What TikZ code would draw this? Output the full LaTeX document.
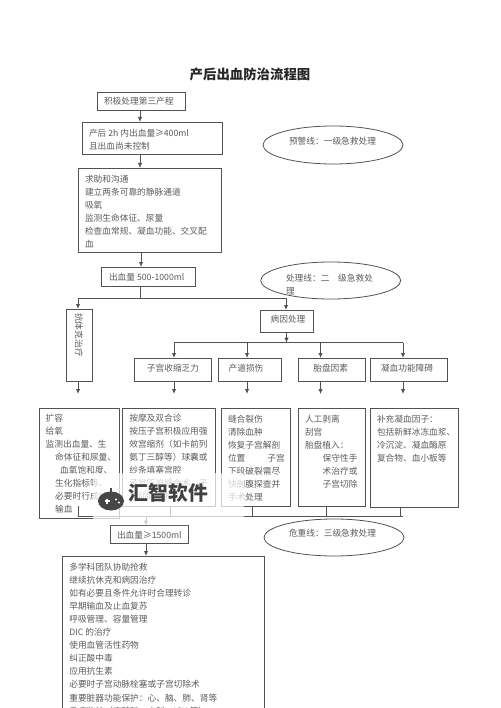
\documentclass[tikz,border=0pt]{standalone}
\usepackage{fontspec}
\setmainfont{Noto Sans CJK SC}
\usetikzlibrary{arrows.meta,shapes.geometric}
\definecolor{ink}{gray}{0.32}
\definecolor{txt}{gray}{0.36}
\tikzset{
  x=1pt,y=-1pt,
  bx/.style={draw=ink,line width=0.9pt,anchor=north west,inner sep=0pt,outer sep=0pt},
  ell/.style={draw=ink,line width=0.8pt,ellipse,inner sep=0pt,outer sep=0pt,minimum width=140pt},
  tx/.style={text=txt,inner sep=0pt,outer sep=0pt,align=left,anchor=north west,yshift=-3.5pt,font=\fontsize{8.7}{13.1}\selectfont},
  ct/.style={text=txt,inner sep=0pt,outer sep=0pt,font=\fontsize{8.7}{13.1}\selectfont},
  ln/.style={draw=ink,line width=0.9pt},
  ar/.style={ln,-{Latex[length=5pt,width=4.5pt]}},
}
\begin{document}
\begin{tikzpicture}
\useasboundingbox (0,0) rectangle (500,708);
\clip (0,0) rectangle (500,708);
\fill[white] (0,0) rectangle (500,708);
\node[font=\fontsize{13.4}{16}\selectfont\bfseries,text=black!85,inner sep=0pt] (title) at (250,74) {产后出血防治流程图};
% boxes
\node[bx,minimum width=88pt,minimum height=18pt] (a1) at (97,92) {};
\node[bx,minimum width=140pt,minimum height=32pt] (a2) at (82.5,122) {};
\node[bx,minimum width=143pt,minimum height=84pt] (a3) at (78.5,168) {};
\node[bx,minimum width=94pt,minimum height=19pt] (a4) at (101.7,267) {};
\node[bx,minimum width=25.5pt,minimum height=72pt] (shock) at (66.7,309) {};
\node[bx,minimum width=53pt,minimum height=22.5pt] (cause) at (260.7,310) {};
\node[bx,minimum width=76.5pt,minimum height=23pt] (c1) at (134.7,358) {};
\node[bx,minimum width=63pt,minimum height=23pt] (c2) at (218,358) {};
\node[bx,minimum width=67pt,minimum height=23pt] (c3) at (298,358) {};
\node[bx,minimum width=77pt,minimum height=23pt] (c4) at (370,358) {};
\node[bx,minimum width=80pt,minimum height=110pt] (d0) at (39,408) {};
\node[bx,minimum width=93pt,minimum height=98pt] (d1) at (122.5,408) {};
\node[bx,minimum width=69pt,minimum height=97.5pt] (d2) at (221,408.7) {};
\node[bx,minimum width=67pt,minimum height=97.5pt] (d3) at (298,408.7) {};
\node[bx,minimum width=88pt,minimum height=98.5pt] (d4) at (370,408.7) {};
\node[bx,minimum width=78.5pt,minimum height=18pt] (e1) at (110,525.7) {};
\node[bx,minimum width=202pt,minimum height=170pt] (e2) at (62,556) {};
% ellipses
\node[ell,minimum height=38pt] (w1) at (333,145) {};
\node[ell,minimum height=37pt] (w2) at (330.7,280.5) {};
\node[ell,minimum height=37pt] (w3) at (334,537.5) {};
% junctions
\coordinate (j1) at (140,298);
\coordinate (jl) at (78,298);
\coordinate (jr) at (286,298);
\coordinate (j2) at (286.5,342.7);
\coordinate (k1) at (174,342.7);
\coordinate (k2) at (247,342.7);
\coordinate (k3) at (320.5,342.7);
\coordinate (k4) at (403,342.7);
\coordinate (m0) at (78,394);
\coordinate (m1) at (174,394);
\coordinate (m2) at (247,394);
\coordinate (m3) at (320.5,394);
\coordinate (m4) at (403,394);
\coordinate (s0) at (78,506);
\coordinate (b0) at (78,516.3);
\coordinate (b1) at (170.7,516.3);
\coordinate (b2) at (252,516.3);
\coordinate (b3) at (326,516.3);
\coordinate (b4) at (400,516.3);
\coordinate (b5) at (403,516.3);
\coordinate (bm) at (146,516.3);
% connectors
\draw[ar] (a1.south -| 140,0) -- (a2.north -| 140,0);
\draw[ar] (a2.south -| 140,0) -- (a3.north -| 140,0);
\draw[ar] (a3.south -| 141,0) -- (a4.north -| 141,0);
\draw[ln] (a4.south -| j1) -- (j1);
\draw[ln] (jl) -- (jr);
\draw[ar] (jl) -- (shock.north -| jl);
\draw[ar] (jr) -- (cause.north -| jr);
\draw[ar] (shock.south -| m0) -- (m0);
\draw[ar] (cause.south -| j2) -- (j2);
\draw[ln] (k1) -- (k4);
\draw[ar] (k1) -- (c1.north -| k1);
\draw[ar] (k2) -- (c2.north -| k2);
\draw[ar] (k3) -- (c3.north -| k3);
\draw[ar] (k4) -- (c4.north -| k4);
\draw[ar] (c1.south -| m1) -- (m1);
\draw[ar] (c2.south -| m2) -- (m2);
\draw[ar] (c3.south -| m3) -- (m3);
\draw[ar] (c4.south -| m4) -- (m4);
\draw[ln] (s0) -- (b0) -- (b5);
\draw[ln] (d1.south -| b1) -- (b1);
\draw[ln] (d2.south -| b2) -- (b2);
\draw[ln] (d3.south -| b3) -- (b3);
\draw[ln] (d4.south -| b4) -- (b4);
\draw[ar] (bm) -- (e1.north -| bm);
\draw[ar] (e1.south -| bm) -- (e2.north -| bm);
% texts
\node[ct,anchor=west] (ta1) at (104,101) {积极处理第三产程};
\node[tx] (ta2) at (89,125.5) {产后 2h 内出血量≥400ml\\且出血尚未控制};
\node[tx] (ta3) at (85,171.5) {求助和沟通\\建立两条可靠的静脉通道\\吸氧\\监测生命体征、尿量\\检查血常规、凝血功能、交叉配\\血};
\node[ct,anchor=west] (ta4) at (109,277) {出血量 500-1000ml};
\node[ct,rotate=-90] (tshock) at (79,335) {抗体克治疗};
\node[ct] (tcause) at (288,319) {病因处理};
\node[ct] (tc1) at (173,368) {子宫收缩乏力};
\node[ct] (tc2) at (246,368) {产道损伤};
\node[ct] (tc3) at (330.7,368) {胎盘因素};
\node[ct] (tc4) at (407,368) {凝血功能障碍};
\node[tx] (td0) at (45.7,410.2) {扩容\\给氧\\监测出血量、生\\\hspace*{9.5pt}命体征和尿量、\\\hspace*{14.5pt}血氧饱和度、\\\hspace*{9.5pt}生化指标等、\\\hspace*{9.5pt}必要时行成分\\\hspace*{9.5pt}输血};
\node[tx] (td1) at (129.3,410.2) {按摩及双合诊\\按压子宫积极应用强\\效宫缩剂（如卡前列\\氨丁三醇等）球囊或\\纱条填塞宫腔\\子宫压迫缝合术、子\\宫动脉结扎};
\node[tx] (td2) at (228,411.5) {缝合裂伤\\清除血肿\\恢复子宫解剖\\位置\hspace*{22pt}子宫\\下段破裂需尽\\快剖腹探查并\\手术处理};
\node[tx] (td3) at (305,411.5) {人工剥离\\刮宫\\胎盘植入：\\\hspace*{17.7pt}保守性手\\\hspace*{17.7pt}术治疗或\\\hspace*{17.7pt}子宫切除};
\node[tx] (td4) at (377,411.5) {补充凝血因子：\\包括新鲜冰冻血浆、\\冷沉淀、凝血酶原\\复合物、血小板等};
\node[ct,anchor=west] (te1) at (117,535) {出血量≥1500ml};
\node[tx] (te2) at (69.3,559.2) {多学科团队协助抢救\\继续抗休克和病因治疗\\如有必要且条件允许时合理转诊\\早期输血及止血复苏\\呼吸管理、容量管理\\DIC 的治疗\\使用血管活性药物\\纠正酸中毒\\应用抗生素\\必要时子宫动脉栓塞或子宫切除术\\重要脏器功能保护：心、脑、肺、肾等\\重症监护（麻醉科、内科、ICU 等）};
\node[ct,anchor=west] (tw1) at (289,141) {预警线：一级急救处理};
\node[tx] (tw2) at (286,270.2) {处理线：二\hspace*{8.7pt}级急救处\\理};
\node[ct,anchor=west] (tw3) at (289,533) {危重线：三级急救处理};
% watermark
\fill[white,opacity=0.72,rounded corners=2pt] (93,473) rectangle (244,525);
\fill[black!72] (111,501) ellipse [x radius=13,y radius=9.5];
\draw[black!72,line width=1.4pt] (111,493) -- (111,488);
\draw[white,line width=1.3pt] (104.5,501) -- (109.5,501) (107,498.5) -- (107,503.5);
\fill[white] (116,499.5) circle [radius=1.1] (119,502.5) circle [radius=1.1];
\node[font=\fontsize{19.8}{22}\selectfont\bfseries,text=black!75,inner sep=0pt] (wm) at (168.5,493) {汇智软件};
\end{tikzpicture}
\end{document}
